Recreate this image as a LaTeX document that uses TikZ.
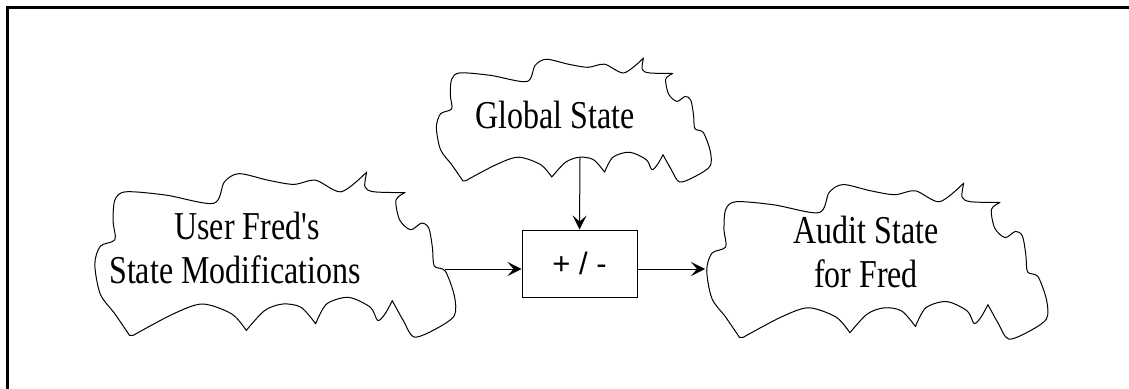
\documentclass[tikz,border=0pt]{standalone}
\usepackage{fontspec}
\setmainfont{Liberation Serif}
\newfontfamily\labelserif[FakeStretch=0.81]{Liberation Serif}
\newfontfamily\opsans{Liberation Sans}
\usetikzlibrary{arrows.meta}

\tikzset{
  cloudtext/.style={font=\labelserif\fontsize{39.5}{44}\selectfont, align=center, inner sep=0pt},
  cloudline/.style={draw=black, line width=1pt, line join=round},
  opbox/.style={draw=black, line width=1pt, minimum width=115pt, minimum height=67pt,
                inner sep=0pt, font=\opsans\fontsize{31}{34}\selectfont},
  flow/.style={line width=1pt, -{Stealth[length=14pt,width=14pt,inset=6pt]}},
  frameline/.style={line width=2.4pt}
}

% wavy cloud outline in a unit box: #1,#2 = top-left corner, #3 = width, #4 = height
\newcommand\cloudoutline[4]{%
  \begin{scope}[shift={(#1,#2)}, x={(#3,0)}, y={(0,#4)}]
    \draw[cloudline]
      plot[smooth] coordinates {(0.10,0.99) (0.06,0.86) (0.02,0.74) (0.005,0.56) (0.02,0.45)
        (0.06,0.41) (0.055,0.30) (0.06,0.17) (0.09,0.12) (0.20,0.14) (0.33,0.19) (0.36,0.06)
        (0.40,0.01) (0.48,0.05) (0.55,0.075) (0.61,0.05) (0.68,0.12) (0.75,0.0)}
      -- plot[smooth] coordinates {(0.75,0.0) (0.745,0.09) (0.77,0.12) (0.855,0.125)}
      -- plot[smooth] coordinates {(0.855,0.125) (0.83,0.17) (0.84,0.29) (0.87,0.35) (0.90,0.31)
        (0.92,0.34) (0.93,0.46) (0.935,0.57) (0.965,0.60) (0.99,0.75) (0.99,0.87) (0.94,0.95)
        (0.88,1.0) (0.85,0.90) (0.82,0.78)}
      -- plot[smooth] coordinates {(0.82,0.78) (0.80,0.86) (0.78,0.90) (0.76,0.82) (0.70,0.76)
        (0.64,0.80) (0.61,0.92)}
      -- plot[smooth] coordinates {(0.61,0.92) (0.57,0.82) (0.52,0.80) (0.47,0.84) (0.42,0.96)}
      -- plot[smooth] coordinates {(0.42,0.96) (0.38,0.86) (0.30,0.80) (0.22,0.86) (0.11,0.99)}
      -- cycle;
  \end{scope}%
}

\begin{document}
\begin{tikzpicture}[x=1pt, y=-1pt]
  \useasboundingbox (0,0) rectangle (1129,388);
  \clip (0,0) rectangle (1129,388);

  % page frame
  \draw[frameline] (7.5,7.5) rectangle (1140,400);

  % cloud outlines
  \cloudoutline{435}{58}{278}{124}
  \cloudoutline{93}{172}{365}{165}
  \cloudoutline{705}{183}{345}{156}

  % labels
  \node[cloudtext, anchor=base] (global) at (555,128) {Global State};
  \node[cloudtext] (user) at (235,248) {\hspace*{24pt}User Fred's\\State Modifications};
  \node[cloudtext] (audit) at (866,252) {Audit State\\for Fred};

  % combining operator
  \node[opbox] (op) at (579.5,263.5) {+ / -};

  % connector ends on the cloud edges
  \coordinate (global-out) at (580,158);
  \coordinate (user-out) at (445,269);
  \coordinate (audit-in) at (705,269);

  \draw[flow] (global-out) -- (op.north);
  \draw[flow] (user-out) -- (user-out -| op.west);
  \draw[flow] (audit-in -| op.east) -- (audit-in);
\end{tikzpicture}
\end{document}
